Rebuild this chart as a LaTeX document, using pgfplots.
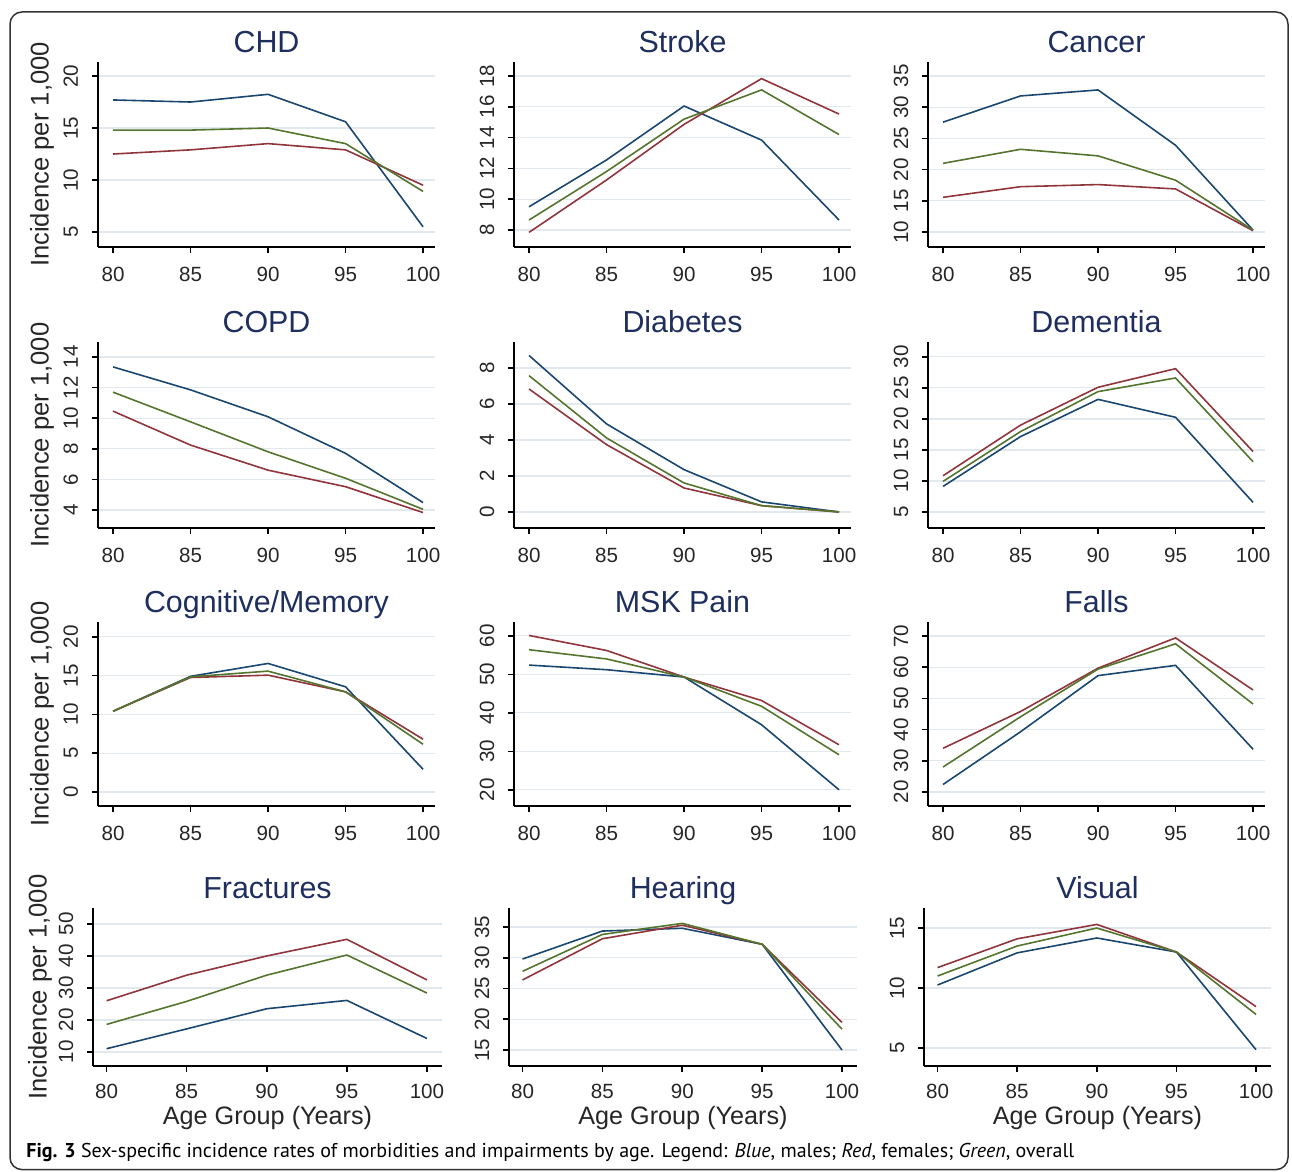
\documentclass[border=0pt]{standalone}
\usepackage{fontspec}
\setmainfont{Liberation Sans}
\newfontfamily\capfont{PT Sans}
\usepackage{pgfplots}
\pgfplotsset{compat=1.18}
\definecolor{mblue}{RGB}{26,71,111}
\definecolor{mred}{RGB}{144,53,59}
\definecolor{mgreen}{RGB}{85,117,47}
\definecolor{titlec}{RGB}{30,46,94}
\definecolor{gridc}{RGB}{226,233,238}
\pgfplotsset{
  panel/.style={
    scale only axis, anchor=south west,
    axis x line*=bottom, axis y line*=left,
    axis line style={line width=0.8pt, black},
    every tick/.style={line width=0.8pt, black},
    tick align=outside, major tick length=3pt,
    xtick={80,85,90,95,100},
    ymajorgrids, grid style={gridc, line width=0.6pt},
    /pgf/number format/assume math mode=true,
    /pgf/number format/1000 sep={},
    ticklabel style={font=\fontsize{10.3}{12}\selectfont, text=black!85},
    xticklabel style={anchor=base, yshift=-14.5pt},
    yticklabel style={anchor=base, rotate=90, yshift=7pt},
    title style={font=\fontsize{15.2}{18}\selectfont, text=titlec, at={(0.5,1)}, anchor=base, yshift=-1.5pt},
    every axis plot/.append style={line width=0.8pt, no marks},
  },
  r123/.style={width=168.5pt, xmin=79.03, xmax=100.77},
  r4/.style={width=174.5pt, xmin=79.15, xmax=100.94, xticklabel style={inner sep=1pt, yshift=1pt}},
  ylab/.style={ylabel={Incidence per 1,000}, ylabel style={font=\fontsize{12.8}{15}\selectfont, text=black!85, at={(axis description cs:#1,0.5)}, anchor=center}},
  xlab/.style={xlabel={Age Group (Years)}, xlabel style={font=\fontsize{12.6}{15}\selectfont, text=black!85, inner sep=1pt, at={(axis description cs:0.5,0)}, anchor=base, yshift=-29.5pt}},
}
\begin{document}
\begin{tikzpicture}
\useasboundingbox (0,0) rectangle (646pt,586pt);
\draw[line width=0.75pt, black!80, rounded corners=6pt] (5pt,1.2pt) rectangle (644pt,580pt);
% Row 1
\begin{axis}[panel, r123, at={(49pt,462.5pt)}, height=92.5pt, ymin=3.56, ymax=21.35, ytick={5,10,15,20}, title={CHD}, ylab=-0.166]
\addplot[mblue] coordinates {(80,17.7)(85,17.5)(90,18.24)(95,15.6)(100,5.5)};
\addplot[mred] coordinates {(80,12.5)(85,12.9)(90,13.5)(95,12.9)(100,9.5)};
\addplot[mgreen] coordinates {(80,14.8)(85,14.8)(90,15.0)(95,13.5)(100,8.9)};
\end{axis}
\begin{axis}[panel, r123, at={(257pt,462.5pt)}, height=92.5pt, ymin=6.9, ymax=18.91, ytick={8,10,12,14,16,18}, title={Stroke}]
\addplot[mblue] coordinates {(80,9.51)(85,12.55)(90,16.05)(95,13.84)(100,8.65)};
\addplot[mred] coordinates {(80,7.85)(85,11.25)(90,14.86)(95,17.83)(100,15.53)};
\addplot[mgreen] coordinates {(80,8.65)(85,11.8)(90,15.2)(95,17.1)(100,14.2)};
\end{axis}
\begin{axis}[panel, r123, at={(464pt,462.5pt)}, height=92.5pt, ymin=7.6, ymax=37.24, ytick={10,15,20,25,30,35}, title={Cancer}]
\addplot[mblue] coordinates {(80,27.6)(85,31.8)(90,32.76)(95,23.9)(100,10.3)};
\addplot[mred] coordinates {(80,15.56)(85,17.26)(90,17.6)(95,16.9)(100,10.2)};
\addplot[mgreen] coordinates {(80,21.0)(85,23.25)(90,22.2)(95,18.3)(100,10.3)};
\end{axis}
% Row 2
\begin{axis}[panel, r123, at={(49pt,322pt)}, height=93pt, ymin=2.82, ymax=14.98, ytick={4,6,8,10,12,14}, title={COPD}, ylab=-0.166]
\addplot[mblue] coordinates {(80,13.35)(85,11.85)(90,10.09)(95,7.7)(100,4.48)};
\addplot[mred] coordinates {(80,10.46)(85,8.24)(90,6.6)(95,5.52)(100,3.83)};
\addplot[mgreen] coordinates {(80,11.7)(85,9.76)(90,7.8)(95,6.07)(100,4.04)};
\end{axis}
\begin{axis}[panel, r123, at={(257pt,322pt)}, height=93pt, ymin=-0.89, ymax=9.44, ytick={0,2,4,6,8}, title={Diabetes}]
\addplot[mblue] coordinates {(80,8.69)(85,4.89)(90,2.35)(95,0.56)(100,0)};
\addplot[mred] coordinates {(80,6.83)(85,3.74)(90,1.33)(95,0.35)(100,0)};
\addplot[mgreen] coordinates {(80,7.57)(85,4.11)(90,1.61)(95,0.35)(100,0)};
\end{axis}
\begin{axis}[panel, r123, at={(464pt,322pt)}, height=93pt, ymin=2.42, ymax=32.4, ytick={5,10,15,20,25,30}, title={Dementia}]
\addplot[mblue] coordinates {(80,9.12)(85,17.15)(90,23.15)(95,20.26)(100,6.55)};
\addplot[mred] coordinates {(80,10.84)(85,19.0)(90,25.1)(95,28.1)(100,14.74)};
\addplot[mgreen] coordinates {(80,9.93)(85,17.96)(90,24.4)(95,26.6)(100,13.1)};
\end{axis}
% Row 3
\begin{axis}[panel, r123, at={(49pt,183pt)}, height=92pt, ymin=-1.8, ymax=21.9, ytick={0,5,10,15,20}, title={Cognitive/Memory}, ylab=-0.166]
\addplot[mblue] coordinates {(80,10.4)(85,14.9)(90,16.56)(95,13.55)(100,2.93)};
\addplot[mred] coordinates {(80,10.4)(85,14.75)(90,15.05)(95,12.9)(100,6.8)};
\addplot[mgreen] coordinates {(80,10.4)(85,14.84)(90,15.57)(95,12.9)(100,6.15)};
\end{axis}
\begin{axis}[panel, r123, at={(257pt,183pt)}, height=92pt, ymin=15.8, ymax=63.6, ytick={20,30,40,50,60}, title={MSK Pain}]
\addplot[mblue] coordinates {(80,52.4)(85,51.2)(90,49.3)(95,36.9)(100,20)};
\addplot[mred] coordinates {(80,60.1)(85,56.2)(90,49.3)(95,43.2)(100,31.7)};
\addplot[mgreen] coordinates {(80,56.4)(85,54.0)(90,49.3)(95,41.7)(100,29.1)};
\end{axis}
\begin{axis}[panel, r123, at={(464pt,183pt)}, height=92pt, ymin=15.5, ymax=74.5, ytick={20,30,40,50,60,70}, title={Falls}]
\addplot[mblue] coordinates {(80,22.4)(85,39.3)(90,57.3)(95,60.6)(100,33.7)};
\addplot[mred] coordinates {(80,34.0)(85,45.8)(90,59.7)(95,69.4)(100,52.7)};
\addplot[mgreen] coordinates {(80,28.0)(85,44.1)(90,59.4)(95,67.5)(100,48.2)};
\end{axis}
% Row 4
\begin{axis}[panel, r4, at={(46.5pt,53pt)}, height=79pt, ymin=5.6, ymax=55, ytick={10,20,30,40,50}, title={Fractures}, ylab=-0.152, xlab]
\addplot[mblue] coordinates {(80,11.0)(85,17.2)(90,23.5)(95,26.1)(100,14.2)};
\addplot[mred] coordinates {(80,26.0)(85,34.0)(90,40.0)(95,45.2)(100,32.5)};
\addplot[mgreen] coordinates {(80,18.6)(85,25.8)(90,34.0)(95,40.3)(100,28.4)};
\end{axis}
\begin{axis}[panel, r4, at={(254.5pt,53pt)}, width=174pt, height=79pt, ymin=12.4, ymax=38.1, ytick={15,20,25,30,35}, title={Hearing}, xlab]
\addplot[mblue] coordinates {(80,29.8)(85,34.35)(90,34.8)(95,32.2)(100,15.0)};
\addplot[mred] coordinates {(80,26.4)(85,33.1)(90,35.3)(95,32.2)(100,19.5)};
\addplot[mgreen] coordinates {(80,27.8)(85,33.8)(90,35.6)(95,32.2)(100,18.4)};
\end{axis}
\begin{axis}[panel, r4, at={(462pt,53pt)}, width=173.5pt, height=79pt, ymin=3.5, ymax=16.67, ytick={5,10,15}, title={Visual}, xlab]
\addplot[mblue] coordinates {(80,10.25)(85,12.93)(90,14.17)(95,13.0)(100,4.86)};
\addplot[mred] coordinates {(80,11.7)(85,14.1)(90,15.3)(95,13.0)(100,8.45)};
\addplot[mgreen] coordinates {(80,11.0)(85,13.5)(90,15.0)(95,13.0)(100,7.8)};
\end{axis}
\node[anchor=base west, inner sep=0pt] at (13pt,7pt) {\capfont\fontsize{10}{12}\selectfont\textbf{Fig. 3} Sex-specific incidence rates of morbidities and impairments by age. Legend: \textit{Blue}, males; \textit{Red}, females; \textit{Green}, overall};
\end{tikzpicture}
\end{document}
